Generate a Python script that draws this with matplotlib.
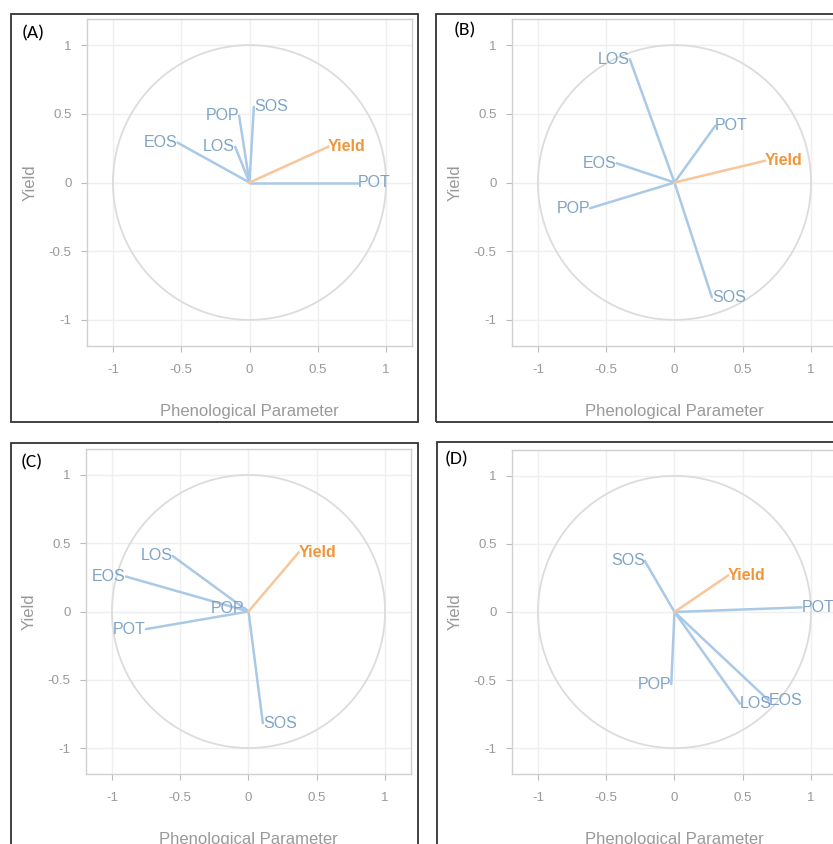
import numpy as np
import matplotlib
matplotlib.use('Agg')
from matplotlib import pyplot as plt
from matplotlib.patches import Rectangle

plt.rcParams['font.family'] = ['Liberation Sans', 'DejaVu Sans']

# correlation loadings, one set per panel
names = ['POT', 'EOS', 'POP', 'SOS', 'LOS']
a_x = [0.795, -0.527, -0.076, 0.032, -0.105]
a_y = [0.0, 0.29, 0.485, 0.55, 0.26]
a_yield = (0.576, 0.26)

b_x = [0.298, -0.424, -0.618, 0.274, -0.327]
b_y = [0.412, 0.14, -0.187, -0.836, 0.897]
b_yield = (0.662, 0.158)

c_x = [-0.751, -0.898, -0.03, 0.105, -0.556]
c_y = [-0.129, 0.256, 0.025, -0.817, 0.407]
c_yield = (0.367, 0.432)

d_x = [0.931, 0.69, -0.024, -0.218, 0.479]
d_y = [0.034, -0.65, -0.53, 0.376, -0.673]
d_yield = (0.392, 0.268)

ticks = [-1, -0.5, 0, 0.5, 1]
ticklabels = ['-1', '-0.5', '0', '0.5', '1']

W, H = 833, 844
fig = plt.figure(figsize=(W/100, H/100), dpi=100)

def px(x0, y0, x1, y1):
    # pixel box (top-left origin) -> figure fraction
    return [x0/W, 1-y1/H, (x1-x0)/W, (y1-y0)/H]

line_blue = '#aac9e6'
text_blue = '#7fa3c6'
line_orange = '#f7c69a'
text_orange = '#f0963a'
grey = '#999999'

def panel(rect, xs, ys, yld, tag, box, tagpos):
    # black frame around panel
    bx0, by0, bx1, by1 = box
    fig.patches.append(Rectangle((bx0/W, 1-by1/H), (bx1-bx0)/W, (by1-by0)/H,
                                 transform=fig.transFigure, fill=False,
                                 edgecolor='#333333', linewidth=1.3))
    fig.text(tagpos[0]/W, 1-tagpos[1]/H, tag, fontsize=14, family=['Carlito', 'Liberation Sans', 'DejaVu Sans'],
             va='center', ha='left', color='black')

    ax = fig.add_axes(px(*rect))
    ax.set_xlim(-1.19, 1.19)
    ax.set_ylim(-1.19, 1.19)
    ax.set_xticks(ticks)
    ax.set_xticklabels(ticklabels)
    ax.set_yticks(ticks)
    ax.set_yticklabels(ticklabels)
    ax.grid(True, color='#efefef', linewidth=1.0)
    ax.set_axisbelow(True)
    for s in ax.spines.values():
        s.set_color('#d0d0d0')
        s.set_linewidth(1.0)
    ax.tick_params(colors='#bbbbbb', labelcolor=grey, labelsize=9.5, length=4, width=0.8)
    ax.tick_params(axis='x', pad=9)
    ax.tick_params(axis='y', pad=7)

    t = np.linspace(0, 2*np.pi, 300)
    ax.plot(np.cos(t), np.sin(t), color='#dcdcdc', linewidth=1.3)

    for n, x, y in zip(names, xs, ys):
        ax.plot([0, x], [0, y], color=line_blue, linewidth=1.8, solid_capstyle='round')
        ax.text(x, y, n, color=text_blue, fontsize=11.5, ha='left' if x >= 0 else 'right', va='center')
    ax.plot([0, yld[0]], [0, yld[1]], color=line_orange, linewidth=1.8)
    ax.text(yld[0], yld[1], 'Yield', color=text_orange, fontsize=11.5, fontweight='bold',
            ha='left', va='center')

    ax.set_xlabel('Phenological Parameter', color=grey, fontsize=12, labelpad=20)
    ax.set_ylabel('Yield', color=grey, fontsize=12, labelpad=8)
    return ax

panel((87, 19, 412, 346), a_x, a_y, a_yield, '(A)', (11, 14, 418, 422), (22, 33))
panel((512, 19, 837, 346), b_x, b_y, b_yield, '(B)', (436, 14, 845, 422), (454, 30))
panel((86, 449, 411, 774), c_x, c_y, c_yield, '(C)', (11, 443, 418, 850), (21, 462))
panel((512, 450, 837, 774), d_x, d_y, d_yield, '(D)', (437, 442, 845, 850), (445, 459))

fig.savefig('out.png', dpi=100)
